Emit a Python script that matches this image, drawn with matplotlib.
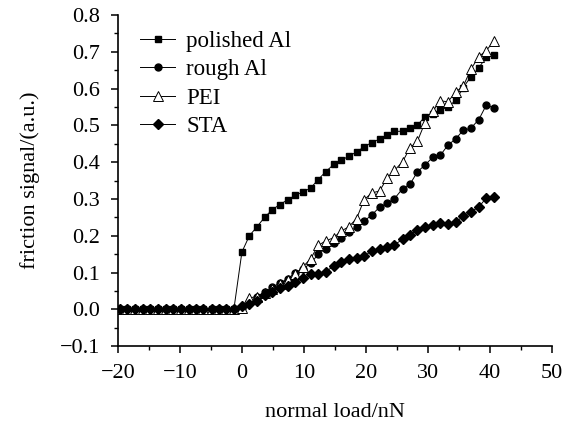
# friction signal vs normal load for four surfaces
import matplotlib
matplotlib.use('Agg')
from matplotlib import pyplot as plt
from matplotlib.ticker import MultipleLocator

load = [-19.7, -18.5, -17.2, -16.0, -14.8, -13.6, -12.3, -11.1, -9.9, -8.6,
        -7.4, -6.2, -4.9, -3.7, -2.5, -1.3, 0.0, 1.2, 2.4, 3.7,
        4.9, 6.1, 7.4, 8.6, 9.8, 11.1, 12.3, 13.5, 14.8, 16.0,
        17.2, 18.5, 19.7, 20.9, 22.2, 23.4, 24.6, 25.9, 27.1, 28.3,
        29.5, 30.8, 32.0, 33.2, 34.5, 35.7, 36.9, 38.2, 39.4, 40.6]

polished_al = [0.0, 0.0, 0.0, 0.0, 0.0, 0.0, 0.0, 0.0, 0.0, 0.0,
               0.0, 0.0, 0.0, 0.0, 0.0, 0.0, 0.156, 0.200, 0.224, 0.251,
               0.271, 0.285, 0.298, 0.310, 0.319, 0.330, 0.353, 0.374, 0.394, 0.405,
               0.416, 0.428, 0.442, 0.453, 0.463, 0.475, 0.484, 0.484, 0.492, 0.501,
               0.523, 0.532, 0.543, 0.549, 0.569, 0.603, 0.632, 0.657, 0.685, 0.691]

rough_al = [0.0, 0.0, 0.0, 0.0, 0.0, 0.0, 0.0, 0.0, 0.0, 0.0,
            0.0, 0.0, 0.0, 0.0, 0.0, 0.0, 0.003, 0.020, 0.035, 0.048,
            0.060, 0.072, 0.083, 0.100, 0.110, 0.125, 0.150, 0.165, 0.180, 0.195,
            0.210, 0.224, 0.240, 0.256, 0.278, 0.288, 0.301, 0.328, 0.340, 0.374,
            0.392, 0.414, 0.419, 0.446, 0.464, 0.487, 0.492, 0.516, 0.555, 0.548]

pei = [0.0, 0.0, 0.0, 0.0, 0.0, 0.0, 0.0, 0.0, 0.0, 0.0,
       0.0, 0.0, 0.0, 0.0, 0.0, 0.0, 0.005, 0.031, 0.035, 0.045,
       0.055, 0.070, 0.080, 0.095, 0.115, 0.138, 0.174, 0.186, 0.195, 0.213,
       0.224, 0.247, 0.298, 0.316, 0.322, 0.356, 0.378, 0.401, 0.439, 0.457,
       0.507, 0.539, 0.567, 0.564, 0.591, 0.607, 0.652, 0.687, 0.703, 0.729]

sta = [0.0, 0.0, 0.0, 0.0, 0.0, 0.0, 0.0, 0.0, 0.0, 0.0,
       0.0, 0.0, 0.0, 0.0, 0.0, 0.0, 0.008, 0.014, 0.024, 0.038,
       0.047, 0.059, 0.063, 0.074, 0.085, 0.095, 0.095, 0.102, 0.118, 0.129,
       0.138, 0.141, 0.144, 0.159, 0.165, 0.170, 0.176, 0.190, 0.203, 0.215,
       0.224, 0.229, 0.235, 0.231, 0.238, 0.253, 0.265, 0.278, 0.303, 0.306]

plt.rcParams['font.family'] = ['Liberation Serif', 'DejaVu Serif']


def fmt_y(v, pos):
	return ('%.1f' % v).replace('-', '\u2212')


def fmt_x(v, pos):
	return ('%d' % round(v)).replace('-', '\u2212')


fig = plt.figure(figsize=(5.75, 4.29), dpi=100)
ax = fig.add_axes([0.205, 0.193, 0.755, 0.772])

lw = 0.7
ax.plot(load, polished_al, '-s', color='black', lw=lw, ms=5, label='polished Al')
ax.plot(load, rough_al, '-o', color='black', lw=lw, ms=5, label='rough Al')
ax.plot(load, pei, '-^', color='black', lw=lw, ms=6.5, mfc='white', mew=0.7, label='PEI')
ax.plot(load, sta, '-D', color='black', lw=lw, ms=5.5, label='STA')

ax.set_xlim(-20, 50)
ax.set_ylim(-0.1, 0.8)
ax.xaxis.set_major_locator(MultipleLocator(10))
ax.xaxis.set_minor_locator(MultipleLocator(5))
ax.yaxis.set_major_locator(MultipleLocator(0.1))
ax.yaxis.set_minor_locator(MultipleLocator(0.05))
ax.yaxis.set_major_formatter(plt.FuncFormatter(fmt_y))
ax.xaxis.set_major_formatter(plt.FuncFormatter(fmt_x))

for side in ['top', 'right']:
	ax.spines[side].set_visible(False)
for side in ['left', 'bottom']:
	ax.spines[side].set_linewidth(1.2)

ax.tick_params(which='major', direction='out', length=5, width=1.1, labelsize=16, pad=8)
ax.tick_params(which='minor', direction='out', length=3, width=1.0)

ax.set_xlabel('normal load/nN', fontsize=16, labelpad=14)
ax.set_ylabel('friction signal/(a.u.)', fontsize=16, labelpad=14)

ax.legend(loc='upper left', bbox_to_anchor=(0.015, 1.0), frameon=False, fontsize=16.5,
          handlelength=1.5, handletextpad=0.5, labelspacing=0.32, borderaxespad=0.3)

fig.savefig('out.png', dpi=100)
